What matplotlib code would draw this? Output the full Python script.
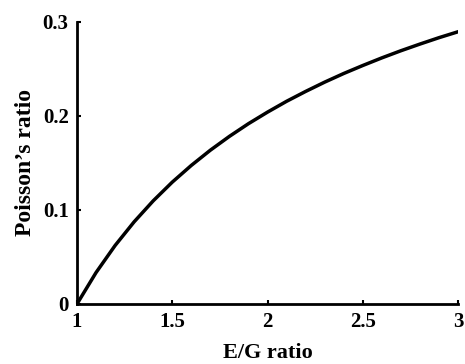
import matplotlib
matplotlib.use("Agg")
import matplotlib.pyplot as plt

# E/G ratio vs Poisson's ratio
eg_ratio = [1.0, 1.1, 1.2, 1.3, 1.4, 1.5, 1.6, 1.7, 1.8, 1.9, 2.0,
            2.1, 2.2, 2.3, 2.4, 2.5, 2.6, 2.7, 2.8, 2.9, 3.0]
poisson = [0.0, 0.0334, 0.0622, 0.0874, 0.1097, 0.1296, 0.1474, 0.1636, 0.1783, 0.1918, 0.2041,
           0.2156, 0.2261, 0.2360, 0.2452, 0.2537, 0.2618, 0.2694, 0.2765, 0.2833, 0.2896]
x_ticks = [1, 1.5, 2, 2.5, 3]
x_tick_labels = ["1", "1.5", "2", "2.5", "3"]
y_ticks = [0, 0.1, 0.2, 0.3]
y_tick_labels = ["0", "0.1", "0.2", "0.3"]

plt.rcParams["font.family"] = ["Liberation Serif", "DejaVu Serif"]
plt.rcParams["font.weight"] = "bold"

fig = plt.figure(figsize=(4.65, 3.64), dpi=100)
ax = fig.add_axes([0.1656, 0.165, 0.8194, 0.7746])

ax.plot(eg_ratio, poisson, color="black", linewidth=2.5, solid_joinstyle="round")

ax.set_xlim(1, 3)
ax.set_ylim(0, 0.3)
ax.set_xticks(x_ticks)
ax.set_xticklabels(x_tick_labels, fontsize=15, fontweight="bold")
ax.set_yticks(y_ticks)
ax.set_yticklabels(y_tick_labels, fontsize=15, fontweight="bold")
ax.tick_params(direction="in", length=3, width=1.5, pad=6)

ax.spines["top"].set_visible(False)
ax.spines["right"].set_visible(False)
ax.spines["left"].set_linewidth(2)
ax.spines["bottom"].set_linewidth(2)

ax.set_xlabel("E/G ratio", fontsize=16, fontweight="bold", labelpad=8)
ax.set_ylabel("Poisson\u2019s ratio", fontsize=17, fontweight="bold", labelpad=5)

fig.savefig("out.png", dpi=100)
